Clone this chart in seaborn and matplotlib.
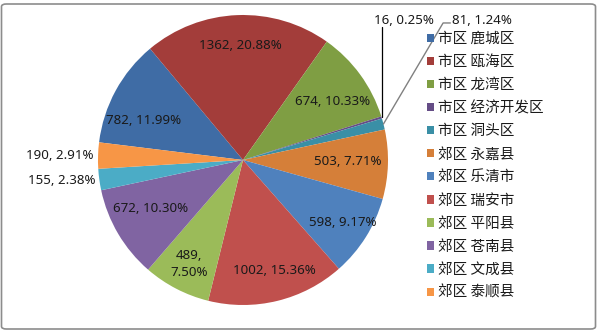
import matplotlib
matplotlib.use("Agg")
import matplotlib.pyplot as plt
import numpy as np
import seaborn as sns
from matplotlib.patches import Patch, FancyBboxPatch

sns.set_style("white")
plt.rcParams['font.family'] = ['Noto Sans CJK SC', 'DejaVu Sans']

categories = ["市区 鹿城区", "市区 瓯海区", "市区 龙湾区", "市区 经济开发区", "市区 洞头区",
              "郊区 永嘉县", "郊区 乐清市", "郊区 瑞安市", "郊区 平阳县", "郊区 苍南县",
              "郊区 文成县", "郊区 泰顺县"]
values = [782, 1362, 674, 16, 81, 503, 598, 1002, 489, 672, 155, 190]
pct_labels = ["11.99%", "20.88%", "10.33%", "0.25%", "1.24%", "7.71%", "9.17%",
              "15.36%", "7.50%", "10.30%", "2.38%", "2.91%"]

colors = ["#3F6CA5", "#A33D3A", "#7F9E43", "#654D86", "#3A8FA6", "#D57F39",
          "#4F81BD", "#C0504D", "#9BBB59", "#8064A2", "#4BACC6", "#F79646"]

# label placement style: 'in' (radius), 'left' outside, 'top' leader
label_mode = ["in", "in", "in", "top", "top", "in", "in", "in", "in", "in", "left", "left"]
label_r = [0.74, 0.79, 0.74, 0, 0, 0.72, 0.81, 0.79, 0.81, 0.72, 1.03, 1.03]
label_dang = [7, -1, -3, 0, 0, 1, 0, 2, 0, -3, 0, 0]

fig = plt.figure(figsize=(6.0, 3.32), dpi=100)
W, H = 600, 332
cx, cy, R = 243, 160, 145
ax = fig.add_axes([(cx - R) / W, (H - cy - R) / H, 2 * R / W, 2 * R / H])

wedges, _ = ax.pie(values, colors=colors, startangle=173, counterclock=False,
                   radius=1.0, wedgeprops=dict(linewidth=0))
ax.set_xlim(-1, 1)
ax.set_ylim(-1, 1)
ax.set_aspect('equal')
ax.axis('off')

lab_font = dict(family=['Noto Sans', 'DejaVu Sans'], fontsize=9.6, color="#1a1a1a")
top_positions = {3: (0.90, 0.965), 4: (1.44, 0.965)}
for i, w in enumerate(wedges):
    mid = np.deg2rad((w.theta1 + w.theta2) / 2)
    txt = f"{values[i]}, {pct_labels[i]}"
    if label_mode[i] == "in":
        a = mid + np.deg2rad(label_dang[i])
        x, y = label_r[i] * np.cos(a), label_r[i] * np.sin(a)
        if values[i] == 489:
            txt = f"{values[i]},\n{pct_labels[i]}"
        ax.text(x, y, txt, ha='center', va='center', linespacing=1.4, **lab_font)
    elif label_mode[i] == "left":
        x, y = label_r[i] * np.cos(mid), label_r[i] * np.sin(mid)
        ax.text(x, y, txt, ha='right', va='center', **lab_font, clip_on=False)
    else:
        ex, ey = np.cos(mid), np.sin(mid)
        tx, ty = top_positions[i]
        ax.text(tx, ty, txt, ha='left', va='center', **lab_font, clip_on=False)
        if i == 3:
            ax.plot([ex, ex], [ey, ty - 0.05], color="black", lw=0.9, clip_on=False)
        else:
            ax.plot([ex, tx - 0.06, tx - 0.01], [ey, ty - 0.02, ty - 0.02],
                    color="#808080", lw=1.0, clip_on=False)

handles = [Patch(facecolor=c, edgecolor='none') for c in colors]
leg = fig.legend(handles, categories, loc='upper left', bbox_to_anchor=(427 / W, 1 - 32 / H),
                 frameon=False, fontsize=10.5, handlelength=0.5, handleheight=0.5,
                 handletextpad=0.25, labelspacing=0.62, borderaxespad=0, borderpad=0)
for t in leg.get_texts():
    t.set_color("#1a1a1a")

frame = FancyBboxPatch((1.5 / W, 3 / H), 594 / W, 325 / H, boxstyle="round,pad=0,rounding_size=0.008",
                       transform=fig.transFigure, facecolor='none', edgecolor='#8c8c8c', lw=1.2)
fig.patches.append(frame)

fig.savefig("out.png", dpi=100)
